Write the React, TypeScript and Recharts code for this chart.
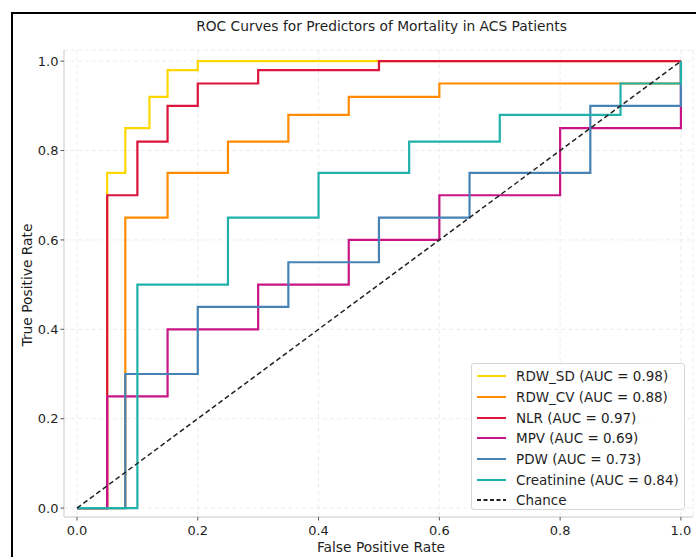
import { LineChart, Line, XAxis, YAxis, CartesianGrid } from 'recharts';

const ticks = [0, 0.2, 0.4, 0.6, 0.8, 1.0];

const rdwSdFpr = [0, 0.05, 0.08, 0.12, 0.15, 0.2, 1.0];
const rdwSdTpr = [0, 0.75, 0.85, 0.92, 0.98, 1.0, 1.0];

const rdwCvFpr = [0, 0.08, 0.15, 0.25, 0.35, 0.45, 0.6, 1.0];
const rdwCvTpr = [0, 0.65, 0.75, 0.82, 0.88, 0.92, 0.95, 1.0];

const nlrFpr = [0, 0.05, 0.1, 0.15, 0.2, 0.3, 0.5, 1.0];
const nlrTpr = [0, 0.7, 0.82, 0.9, 0.95, 0.98, 1.0, 1.0];

const mpvFpr = [0, 0.05, 0.15, 0.3, 0.45, 0.6, 0.8, 1.0];
const mpvTpr = [0, 0.25, 0.4, 0.5, 0.6, 0.7, 0.85, 1.0];

const pdwFpr = [0, 0.08, 0.2, 0.35, 0.5, 0.65, 0.85, 1.0];
const pdwTpr = [0, 0.3, 0.45, 0.55, 0.65, 0.75, 0.9, 1.0];

const creatFpr = [0, 0.1, 0.25, 0.4, 0.55, 0.7, 0.9, 1.0];
const creatTpr = [0, 0.5, 0.65, 0.75, 0.82, 0.88, 0.95, 1.0];

const chanceFpr = [0, 1];
const chanceTpr = [0, 1];

const toPoints = (fpr: number[], tpr: number[]) =>
  fpr.map((x, i) => ({ fpr: x, tpr: tpr[i] }));

const series = [
  { name: 'RDW_SD (AUC = 0.98)', color: '#FFD700', data: toPoints(rdwSdFpr, rdwSdTpr) },
  { name: 'RDW_CV (AUC = 0.88)', color: '#FF8C00', data: toPoints(rdwCvFpr, rdwCvTpr) },
  { name: 'NLR (AUC = 0.97)', color: '#DC143C', data: toPoints(nlrFpr, nlrTpr) },
  { name: 'MPV (AUC = 0.69)', color: '#C71585', data: toPoints(mpvFpr, mpvTpr) },
  { name: 'PDW (AUC = 0.73)', color: '#4682B4', data: toPoints(pdwFpr, pdwTpr) },
  { name: 'Creatinine (AUC = 0.84)', color: '#20B2AA', data: toPoints(creatFpr, creatTpr) },
];

const font = '"DejaVu Sans", sans-serif';
const textColor = '#1f1f1f';

function LegendBox() {
  const items = [
    ...series.map((s) => ({ name: s.name, color: s.color, dash: false })),
    { name: 'Chance', color: '#222', dash: true },
  ];
  return (
    <div
      style={{
        position: 'absolute',
        left: 471,
        top: 363,
        width: 212,
        height: 143,
        border: '1px solid #d6d6d6',
        borderRadius: 3,
        background: 'rgba(255,255,255,0.85)',
        fontFamily: font,
        fontSize: 13.5,
        color: textColor,
        paddingTop: 2,
      }}
    >
      {items.map((item) => (
        <div key={item.name} style={{ display: 'flex', alignItems: 'center', height: 20.7 }}>
          <svg width={44} height={10} style={{ flex: 'none' }}>
            <line
              x1={5}
              x2={34}
              y1={5}
              y2={5}
              stroke={item.color}
              strokeWidth={2}
              strokeDasharray={item.dash ? '4 2.5' : undefined}
            />
          </svg>
          <span style={{ whiteSpace: 'nowrap' }}>{item.name}</span>
        </div>
      ))}
    </div>
  );
}

export default function App() {
  return (
    <div style={{ position: 'absolute', left: 0, top: 0, width: 696, height: 557, overflow: 'hidden', background: '#fff' }}>
      <div
        style={{
          position: 'absolute',
          left: 11,
          top: 12,
          width: 720,
          height: 580,
          border: '2px solid #000',
        }}
      />
      <div
        style={{
          position: 'absolute',
          left: 0,
          width: 763,
          top: 18,
          textAlign: 'center',
          fontFamily: font,
          fontSize: 13.8,
          color: textColor,
          whiteSpace: 'nowrap',
        }}
      >
        ROC Curves for Predictors of Mortality in ACS Patients
      </div>
      <div
        style={{
          position: 'absolute',
          left: 0,
          width: 762,
          top: 539,
          textAlign: 'center',
          fontFamily: font,
          fontSize: 13.8,
          color: textColor,
        }}
      >
        False Positive Rate
      </div>
      <div
        style={{
          position: 'absolute',
          left: 27,
          top: 285,
          transform: 'translate(-50%, -50%) rotate(-90deg)',
          whiteSpace: 'nowrap',
          fontFamily: font,
          fontSize: 13.8,
          color: textColor,
        }}
      >
        True Positive Rate
      </div>
      <LineChart
        width={696}
        height={557}
        margin={{ top: 50, right: 3, bottom: 0, left: 0 }}
        style={{ position: 'absolute', left: 0, top: 0 }}
      >
        <CartesianGrid stroke="#ececec" strokeDasharray="4 3" />
        <XAxis
          type="number"
          dataKey="fpr"
          domain={[-0.0215, 1.02]}
          ticks={ticks}
          allowDataOverflow
          height={40}
          tickFormatter={(v: number) => v.toFixed(1)}
          axisLine={{ stroke: '#dcdcdc', strokeWidth: 1.5 }}
          tickLine={{ stroke: '#555' }}
          tickSize={3.5}
          tickMargin={5}
          tick={{ fill: textColor, fontSize: 13, fontFamily: font }}
        />
        <YAxis
          type="number"
          dataKey="tpr"
          domain={[-0.02, 1.025]}
          ticks={ticks}
          allowDataOverflow
          width={64}
          tickFormatter={(v: number) => v.toFixed(1)}
          axisLine={{ stroke: '#dcdcdc', strokeWidth: 1.5 }}
          tickLine={{ stroke: '#555' }}
          tickSize={3.5}
          tick={{ fill: textColor, fontSize: 13, fontFamily: font }}
        />
        {series.map((s) => (
          <Line
            key={s.name}
            data={s.data}
            dataKey="tpr"
            name={s.name}
            type="stepAfter"
            stroke={s.color}
            strokeWidth={2.2}
            dot={false}
            activeDot={false}
            isAnimationActive={false}
          />
        ))}
        <Line
          data={toPoints(chanceFpr, chanceTpr)}
          dataKey="tpr"
          name="Chance"
          type="linear"
          stroke="#222"
          strokeWidth={1.5}
          strokeDasharray="5 3"
          dot={false}
          activeDot={false}
          isAnimationActive={false}
        />
      </LineChart>
      <LegendBox />
    </div>
  );
}
